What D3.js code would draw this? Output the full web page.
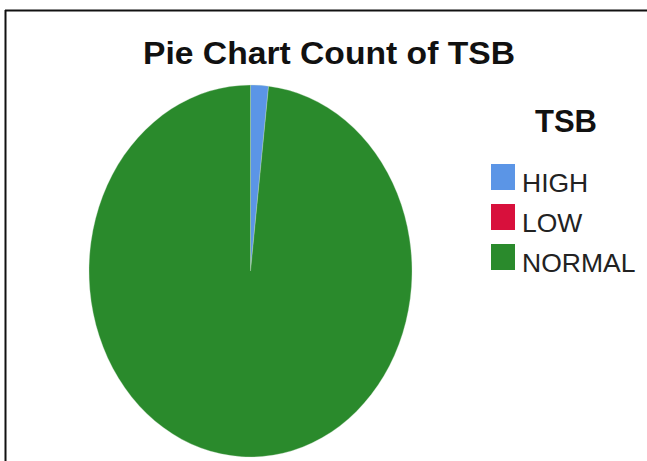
<!DOCTYPE html>
<html>
<head>
<meta charset="utf-8">
<script src="https://cdn.jsdelivr.net/npm/d3@7"></script>
<style>
  html, body { margin: 0; padding: 0; background: #fff; }
  svg { display: block; }
</style>
</head>
<body>
<script>
// TSB categories and their counts
const categories = ["HIGH", "LOW", "NORMAL"];
const counts = [2, 0, 110];
const colors = ["#5b95e6", "#d8103c", "#2a8a2c"];

const width = 647, height = 461;
const svg = d3.select("body").append("svg")
  .attr("width", width).attr("height", height);

// Frame lines (top and left)
svg.append("line").attr("x1", 5).attr("y1", 10.5).attr("x2", width).attr("y2", 10.5)
  .attr("stroke", "#111").attr("stroke-width", 2);
svg.append("line").attr("x1", 5.5).attr("y1", 10).attr("x2", 5.5).attr("y2", height)
  .attr("stroke", "#111").attr("stroke-width", 2);

// Title
svg.append("text")
  .attr("x", 143).attr("y", 64)
  .attr("font-family", "Liberation Sans, Arial, sans-serif")
  .attr("font-weight", "bold")
  .attr("font-size", 31)
  .attr("textLength", 372)
  .attr("lengthAdjust", "spacingAndGlyphs")
  .attr("fill", "#111")
  .text("Pie Chart Count of TSB");

// Pie (drawn on a circle and stretched vertically)
const cx = 250.5, cy = 271, rx = 161.5, ry = 186;
const data = categories.map((c, i) => ({ cat: c, value: counts[i] }));
const pie = d3.pie().value(d => d.value).sort(null);
const arc = d3.arc().innerRadius(0).outerRadius(rx);
const color = d3.scaleOrdinal().domain(categories).range(colors);

const g = svg.append("g")
  .attr("transform", `translate(${cx},${cy}) scale(1,${ry / rx})`);
g.selectAll("path")
  .data(pie(data).filter(d => d.data.value > 0))
  .join("path")
  .attr("d", arc)
  .attr("fill", d => color(d.data.cat))
  .attr("stroke", "#cfe3cf")
  .attr("stroke-width", 0.5)
  .attr("stroke-opacity", 0.6);

// Legend
svg.append("text")
  .attr("x", 566).attr("y", 132)
  .attr("text-anchor", "middle")
  .attr("font-family", "Liberation Sans, Arial, sans-serif")
  .attr("font-weight", "bold")
  .attr("font-size", 31)
  .attr("fill", "#111")
  .text("TSB");

const legend = svg.append("g").selectAll("g")
  .data(categories)
  .join("g")
  .attr("transform", (d, i) => `translate(491,${164 + i * 40})`);
legend.append("rect")
  .attr("width", 24).attr("height", 26)
  .attr("fill", d => color(d));
legend.append("text")
  .attr("x", 31).attr("y", 28)
  .attr("font-family", "Liberation Sans, Arial, sans-serif")
  .attr("font-size", 26.5)
  .attr("fill", "#222")
  .text(d => d);
</script>
</body>
</html>
